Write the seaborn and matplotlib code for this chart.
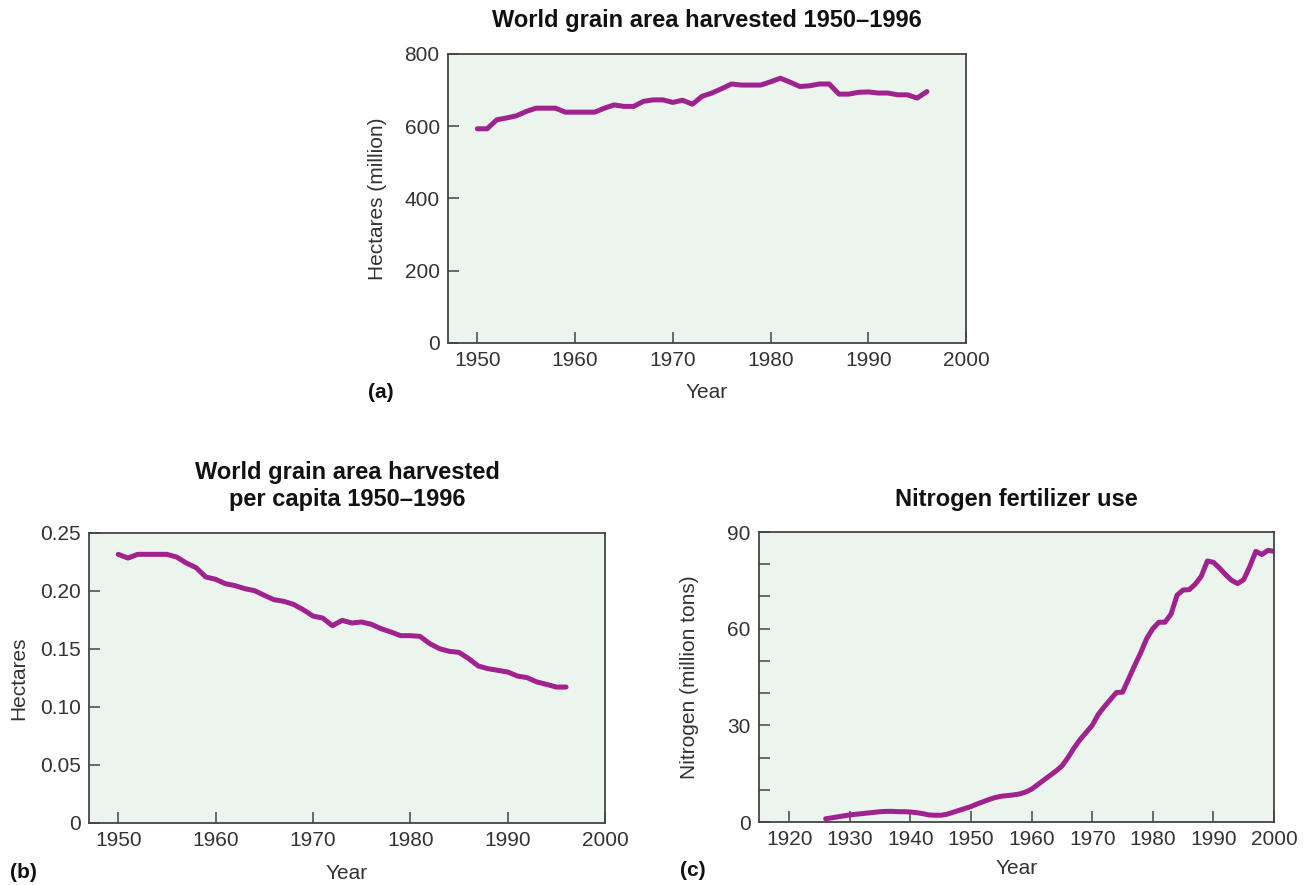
import matplotlib
matplotlib.use("Agg")
import matplotlib.pyplot as plt
from matplotlib.ticker import MultipleLocator
import pandas as pd
import seaborn as sns

# (a) world grain area harvested, million hectares
years_a = list(range(1950, 1997))
area_a = [593, 593, 618, 623, 629, 641, 650, 650, 650, 639, 639, 639, 639, 650,
          659, 655, 655, 669, 673, 673, 666, 672, 661, 683, 692, 704, 717, 714,
          714, 714, 723, 733, 722, 710, 712, 717, 717, 689, 689, 694, 695, 692,
          692, 687, 687, 678, 696]

# (b) area per capita, hectares
years_b = list(range(1950, 1997))
percap_b = [0.2316, 0.2284, 0.2316, 0.2316, 0.2316, 0.2316, 0.2293, 0.2241,
            0.2201, 0.2121, 0.2101, 0.2063, 0.2046, 0.2020, 0.2003, 0.1963,
            0.1925, 0.1911, 0.1885, 0.1839, 0.1784, 0.1767, 0.1701, 0.1747,
            0.1724, 0.1733, 0.1713, 0.1675, 0.1647, 0.1615, 0.1615, 0.1609,
            0.1546, 0.1503, 0.1480, 0.1471, 0.1417, 0.1353, 0.1330, 0.1316,
            0.1302, 0.1267, 0.1253, 0.1216, 0.1195, 0.1172, 0.1172]

# (c) nitrogen fertilizer use, million tons
years_c = list(range(1926, 2001))
nitrogen_c = [1.0, 1.3, 1.6, 1.9, 2.2, 2.4, 2.6, 2.8, 3.0, 3.2, 3.3, 3.3, 3.2,
              3.2, 3.1, 2.9, 2.6, 2.2, 2.1, 2.1, 2.4, 3.0, 3.6, 4.2, 4.8, 5.6,
              6.3, 7.0, 7.6, 8.0, 8.2, 8.4, 8.7, 9.3, 10.2, 11.6, 13.0, 14.4,
              15.8, 17.4, 20.0, 23.0, 25.6, 27.8, 30.0, 33.4, 35.8, 38.0, 40.2,
              40.3, 44.4, 48.6, 52.5, 57.0, 60.0, 62.0, 62.0, 64.5, 70.4, 72.0,
              72.1, 73.8, 76.3, 81.0, 80.6, 78.8, 76.8, 75.0, 74.0, 75.2, 79.3,
              84.0, 83.0, 84.3, 84.0]

yticks_b = [0, 0.05, 0.10, 0.15, 0.20, 0.25]
yticklabels_b = ['0', '0.05', '0.10', '0.15', '0.20', '0.25']

sns.set_style("ticks")
plt.rcParams['font.family'] = ['Liberation Sans', 'DejaVu Sans']

LINE = '#a0228e'
FACE = '#ebf5ee'
TXT = '#333333'
FS = 15

fig = plt.figure(figsize=(13.07, 8.85), dpi=100)
W, H = 1307, 885


def make_ax(l, t, r, b):
    return fig.add_axes([l / W, 1 - b / H, (r - l) / W, (b - t) / H])


def style(ax, xlabel, ylabel, title, title_y, xlab_y):
    ax.set_facecolor(FACE)
    for s in ax.spines.values():
        s.set_color('#444444')
        s.set_linewidth(1.3)
    ax.tick_params(direction='in', length=8, width=1.1, color='#444444',
                   labelsize=FS, labelcolor=TXT, pad=6)
    ax.tick_params(which='minor', direction='in', length=8, width=1.1,
                   color='#444444')
    ax.set_xlabel(xlabel, fontsize=FS, color=TXT)
    ax.set_ylabel(ylabel, fontsize=FS, color=TXT)
    ax.yaxis.set_label_coords(-0.117, 0.5)
    ax.xaxis.set_label_coords(0.5, xlab_y)
    ax.set_title(title, fontsize=17, fontweight='bold', color='#111111',
                 y=title_y, linespacing=1.2)


# panel a
df_a = pd.DataFrame({'Year': years_a, 'Hectares': area_a})
ax_a = make_ax(448, 54, 966, 343)
sns.lineplot(data=df_a, x='Year', y='Hectares', color=LINE, linewidth=3.6,
             ax=ax_a, errorbar=None)
ax_a.set_xlim(1947, 2000)
ax_a.set_ylim(0, 800)
ax_a.set_xticks(range(1950, 2001, 10))
ax_a.set_yticks(range(0, 801, 200))
style(ax_a, 'Year', 'Hectares (million)',
      'World grain area harvested 1950–1996', 1.065, -0.14)

# panel b
df_b = pd.DataFrame({'Year': years_b, 'Hectares': percap_b})
ax_b = make_ax(89, 533, 605, 823)
sns.lineplot(data=df_b, x='Year', y='Hectares', color=LINE, linewidth=3.6,
             ax=ax_b, errorbar=None)
ax_b.set_xlim(1947, 2000)
ax_b.set_ylim(0, 0.25)
ax_b.set_xticks(range(1950, 2001, 10))
ax_b.set_yticks(yticks_b)
ax_b.set_yticklabels(yticklabels_b)
style(ax_b, 'Year', 'Hectares',
      'World grain area harvested\nper capita 1950–1996', 1.065, -0.14)

# panel c
df_c = pd.DataFrame({'Year': years_c, 'Nitrogen': nitrogen_c})
ax_c = make_ax(759, 532, 1274, 822)
sns.lineplot(data=df_c, x='Year', y='Nitrogen', color=LINE, linewidth=3.6,
             ax=ax_c, errorbar=None)
ax_c.set_xlim(1915, 2000)
ax_c.set_ylim(0, 90)
ax_c.set_xticks(range(1920, 2001, 10))
ax_c.set_yticks(range(0, 91, 30))
ax_c.yaxis.set_minor_locator(MultipleLocator(10))
style(ax_c, 'Year', 'Nitrogen (million tons)',
      'Nitrogen fertilizer use', 1.06, -0.128)

for x, y, s in [(368, 393, '(a)'), (10, 872, '(b)'), (680, 870, '(c)')]:
    fig.text(x / W, 1 - y / H, s, fontsize=FS, fontweight='bold',
             color='#111111', va='center')

fig.savefig('out.png', dpi=100)
